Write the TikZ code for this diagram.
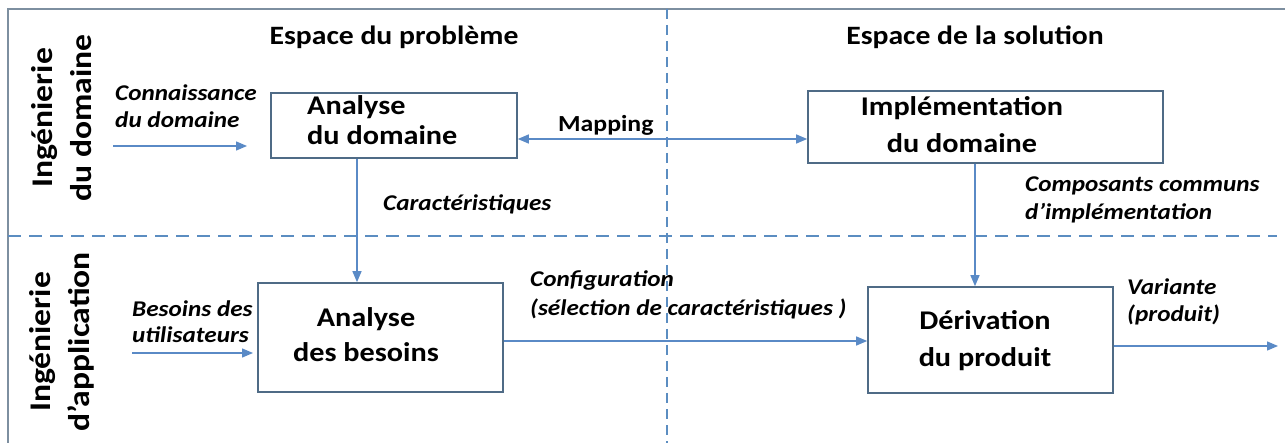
\documentclass[tikz,border=0pt]{standalone}
\usepackage{fontspec}
\setmainfont{Carlito}[FakeStretch=1.12]
\usetikzlibrary{arrows.meta}

\definecolor{flow}{HTML}{5A8AC6}
\definecolor{sep}{HTML}{5B8DC1}
\definecolor{boxline}{HTML}{4F6B86}
\definecolor{frameline}{HTML}{7D8FA0}

\tikzset{
  procbox/.style={draw=boxline, line width=1.6pt, fill=white, inner sep=0pt},
  boxtext/.style={inner sep=0pt},
  header/.style={font=\fontsize{26.5}{30}\selectfont\bfseries, inner sep=0pt},
  sidelabel/.style={font=\fontsize{30}{39}\selectfont\bfseries, inner sep=0pt, rotate=90, align=center},
  flowlabel/.style={font=\fontsize{22.5}{27}\selectfont\bfseries\itshape, inner sep=0pt, align=left, anchor=base west},
  flowarrow/.style={draw=flow, line width=1.3pt, -{Triangle[length=11pt,width=9pt]}},
  separator/.style={draw=sep, line width=2.8pt}
}

\begin{document}
\begin{tikzpicture}[x=1pt, y=-1pt]
  \useasboundingbox (0,0) rectangle (1285,443);

  % outer frame
  \draw[frameline, line width=2pt] (8,443) -- (8,9) -- (1290,9);

  % separators between the two spaces and the two engineering levels
  \draw[separator, dash pattern=on 10pt off 6pt] (667,9) -- (667,443);
  \draw[separator, dash pattern=on 13pt off 8pt] (8,236) -- (1277,236);

  % column headers
  \node[header, anchor=base] (hprob) at (394,45) {Espace du problème};
  \node[header, anchor=base] (hsol) at (975,45) {Espace de la solution};

  % row headers
  \node[sidelabel] (rdom) at (62,118) {Ingénierie\\du domaine};
  \node[sidelabel] (rapp) at (62,342) {Ingénierie\\d’application};

  % process boxes
  \node[procbox, minimum width=246pt, minimum height=65pt] (ad) at (394,125.5) {};
  \node[procbox, minimum width=355pt, minimum height=72pt] (id) at (985.5,127) {};
  \node[procbox, minimum width=245pt, minimum height=109pt] (ab) at (380.5,337.5) {};
  \node[procbox, minimum width=245pt, minimum height=106pt] (dp) at (990.5,340) {};

  % box captions (anchored on the baseline of their last line)
  \node[boxtext, align=left, anchor=base west, font=\fontsize{27}{30}\selectfont\bfseries] (adt) at (307,145) {Analyse\\du domaine};
  \node[boxtext, align=center, anchor=base, font=\fontsize{27}{37}\selectfont\bfseries] (idt) at (962,153) {Implémentation\\du domaine};
  \node[boxtext, align=center, anchor=base, font=\fontsize{27}{35}\selectfont\bfseries] (abt) at (366,362) {Analyse\\des besoins};
  \node[boxtext, align=center, anchor=base, font=\fontsize{27}{37}\selectfont\bfseries] (dpt) at (985,367) {Dérivation\\du produit};

  % free ends of the incoming and outgoing flows
  \coordinate (cin1) at (113,146);
  \coordinate (cin2) at (247,146);
  \coordinate (bin1) at (132,353);
  \coordinate (bin2) at (253,353);
  \coordinate (vout) at (1278,346);
  \coordinate (ymap) at (0,139);
  \coordinate (ycfg) at (0,341);
  \coordinate (xcar) at (357,0);
  \coordinate (xcmp) at (975,0);

  % flows
  \draw[flowarrow] (cin1) -- (cin2);
  \draw[flowarrow] (bin1) -- (bin2);
  \draw[flowarrow, {Triangle[length=11pt,width=9pt]}-{Triangle[length=11pt,width=9pt]}] (ad.east |- ymap) -- (id.west |- ymap);
  \draw[flowarrow] (ad.south -| xcar) -- (ab.north -| xcar);
  \draw[flowarrow] (id.south -| xcmp) -- (dp.north -| xcmp);
  \draw[flowarrow] (ab.east |- ycfg) -- (dp.west |- ycfg);
  \draw[flowarrow] (dp.east |- vout) -- (vout);

  % flow labels (anchored on the baseline of their last line)
  \node[flowlabel] (lcon) at (115,128) {Connaissance\\du domaine};
  \node[font=\fontsize{23}{27}\selectfont\bfseries, inner sep=0pt, anchor=base west] (lmap) at (558,132) {Mapping};
  \node[flowlabel] (lcar) at (383,211) {Caractéristiques};
  \node[flowlabel, font=\fontsize{22.5}{28}\selectfont\bfseries\itshape] (lcmp) at (1025,220) {Composants communs\\d’implémentation};
  \node[flowlabel, font=\fontsize{22.5}{26}\selectfont\bfseries\itshape] (lbes) at (132,343) {Besoins des\\utilisateurs};
  \node[flowlabel, font=\fontsize{22.5}{29}\selectfont\bfseries\itshape] (lcfg) at (530,316) {Configuration\\(sélection de caractéristiques )};
  \node[flowlabel] (lvar) at (1127,322) {Variante\\(produit)};
\end{tikzpicture}
\end{document}
